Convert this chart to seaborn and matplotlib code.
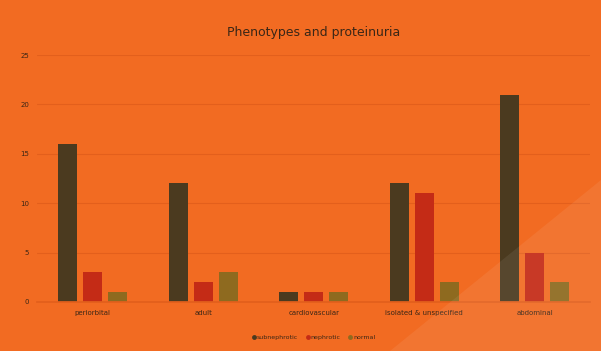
import matplotlib
matplotlib.use("Agg")
import matplotlib.pyplot as plt
import seaborn as sns
import pandas as pd
from matplotlib.patches import Polygon
from matplotlib.lines import Line2D

categories = ["periorbital", "adult", "cardiovascular", "isolated & unspecified", "abdominal"]
series_names = ["subnephrotic", "nephrotic", "normal"]
s1 = [16, 12, 1, 12, 21]
s2 = [3, 2, 1, 11, 5]
s3 = [1, 3, 1, 2, 2]
yticks = [0, 5, 10, 15, 20, 25]
title = "Phenotypes and proteinuria"

rows = []
for name, vals in zip(series_names, [s1, s2, s3]):
    for c, v in zip(categories, vals):
        rows.append({"category": c, "series": name, "value": v})
df = pd.DataFrame(rows)

bg = "#F26B22"
txt = "#3A2616"
colors = ["#4B3A1F", "#C42B16", "#8E6A1F"]

sns.set_theme(style="white")
fig = plt.figure(figsize=(6.01, 3.51), dpi=100, facecolor=bg)
ax = fig.add_axes([0.062, 0.14, 0.92, 0.703])
ax.set_facecolor(bg)

sns.barplot(data=df, x="category", y="value", hue="series", order=categories,
            hue_order=series_names, palette=colors, width=0.68, gap=0.24,
            saturation=1, ax=ax, legend=False, linewidth=0)

ax.set_ylim(0, 25)
ax.set_yticks(yticks)
ax.set_xlim(-0.5, len(categories) - 0.5)
ax.grid(axis="y", color="#E35F1C", linewidth=0.8)
ax.set_axisbelow(True)
for s in ax.spines.values():
    s.set_visible(False)
ax.spines["bottom"].set_visible(True)
ax.spines["bottom"].set_color("#E35F1C")
ax.tick_params(axis="both", length=0, labelsize=5, colors=txt, pad=6)
ax.set_xlabel("")
ax.set_ylabel("")
ax.set_title(title, fontsize=9, color=txt, pad=14)

handles = [Line2D([], [], marker="o", linestyle="none", markersize=3.5,
                  markerfacecolor=c, markeredgewidth=0) for c in colors]
ax.legend(handles, series_names, loc="upper center", bbox_to_anchor=(0.5, -0.11), ncol=3,
          frameon=False, fontsize=4.5, handlelength=0.6, handletextpad=0.2,
          columnspacing=1.2, labelcolor=txt)

tri = Polygon([[390 / 601, 0], [1, 0], [1, 1 - 180 / 351]], closed=True,
              transform=fig.transFigure, facecolor="white", alpha=0.07,
              edgecolor="none", zorder=10)
fig.patches.append(tri)

fig.savefig("out.png", dpi=100, facecolor=bg)
